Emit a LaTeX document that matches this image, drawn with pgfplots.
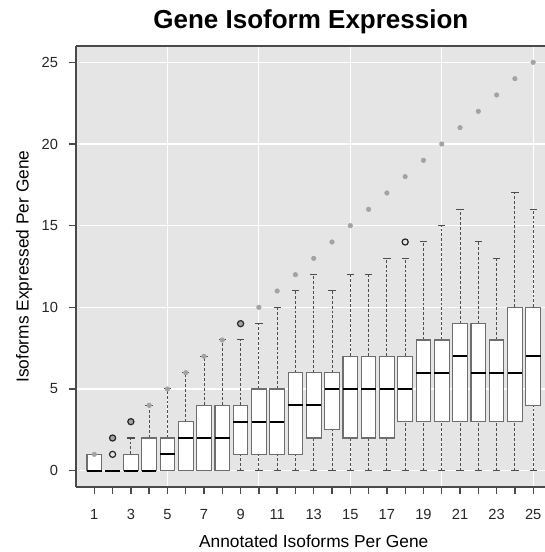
\documentclass[border=0pt]{standalone}
\usepackage{pgfplots}
\pgfplotsset{compat=1.18}
\usepgfplotslibrary{statistics}
\usepackage{fontspec}
\setmainfont{Liberation Sans}
\definecolor{bggray}{HTML}{E5E5E5}
\definecolor{dotgray}{HTML}{A3A3A3}
\definecolor{framegray}{HTML}{4A4A4A}
\definecolor{boxgray}{HTML}{6E6E6E}
\definecolor{whgray}{HTML}{4D4D4D}
\tikzset{
  whiskline/.style={draw=whgray, line width=0.75pt, dash pattern=on 2.2pt off 1.5pt},
  capline/.style={draw=whgray, line width=0.75pt, solid},
}
\pgfplotsset{
  boxplot/draw/lower whisker/.code={%
    \draw[whiskline] (boxplot cs:\pgfplotsboxplotvalue{lower whisker},0) -- (boxplot cs:\pgfplotsboxplotvalue{lower quartile},0);
    \draw[capline] (boxplot whisker cs:\pgfplotsboxplotvalue{lower whisker},0) -- (boxplot whisker cs:\pgfplotsboxplotvalue{lower whisker},1);
  },
  boxplot/draw/upper whisker/.code={%
    \draw[whiskline] (boxplot cs:\pgfplotsboxplotvalue{upper quartile},0) -- (boxplot cs:\pgfplotsboxplotvalue{upper whisker},0);
    \draw[capline] (boxplot whisker cs:\pgfplotsboxplotvalue{upper whisker},0) -- (boxplot whisker cs:\pgfplotsboxplotvalue{upper whisker},1);
  },
}
\newcommand{\bx}[6]{\addplot[draw=whgray, boxplot prepared={draw position=#1, lower whisker=#2, lower quartile=#3, median=#4, upper quartile=#5, upper whisker=#6}] coordinates {};}
\begin{document}
\begin{tikzpicture}
\begin{axis}[
  scale only axis,
  width=356.6pt, height=330.75pt,
  xmin=0, xmax=26, ymin=-1, ymax=26,
  clip=false,
  axis background/.style={fill=bggray},
  axis x line*=bottom, axis y line*=left,
  axis line style={draw=framegray, line width=1pt, -},
  tick align=outside,
  major tick length=5.5pt,
  minor tick length=0pt,
  ytick style={draw=framegray, line width=1pt},
  xtick style={draw=none},
  xtick={1,...,25},
  xticklabels={1,,3,,5,,7,,9,,11,,13,,15,,17,,19,,21,,23,,25},
  minor xtick={5,10,15,20,25},
  xminorgrids=true,
  ytick={0,5,...,25},
  ymajorgrids=true,
  major grid style={draw=white, line width=0.9pt},
  minor grid style={draw=white, line width=0.9pt},
  x tick label style={font=\fontsize{11}{13}\selectfont, text=black!85, yshift=-7.5pt},
  y tick label style={font=\fontsize{11}{13}\selectfont, text=black!85, xshift=-4.5pt},
  /pgf/number format/assume math mode=true,
  every axis title shift=0pt,
  title={Gene Isoform Expression},
  title style={font=\fontsize{19.5}{23}\selectfont\bfseries, at={(axis description cs:0.494,1)}, anchor=base, yshift=12.75pt},
  xlabel={Annotated Isoforms Per Gene},
  xlabel style={font=\fontsize{13}{15}\selectfont, at={(axis description cs:0.5,0)}, anchor=base, yshift=-45pt},
  ylabel={Isoforms Expressed Per Gene},
  ylabel style={font=\fontsize{13}{15}\selectfont, at={(axis description cs:-0.0998,0.5)}, anchor=base, rotate=0},
  boxplot/draw direction=y,
  boxplot/box extend=0.8,
  boxplot/whisker extend=0.4,
  boxplot/every box/.style={draw=boxgray, fill=white, line width=0.8pt, solid},
  boxplot/every whisker/.style={draw=whgray, line width=0.75pt},
  boxplot/every median/.style={draw=black, line width=1.7pt, solid},
]
\bx{1}{0}{0}{0}{1}{1}
\bx{2}{0}{0}{0}{0}{0}
\bx{3}{0}{0}{0}{1}{2}
\bx{4}{0}{0}{0}{2}{4}
\bx{5}{0}{0}{1}{2}{5}
\bx{6}{0}{0}{2}{3}{6}
\bx{7}{0}{0}{2}{4}{7}
\bx{8}{0}{0}{2}{4}{8}
\bx{9}{0}{1}{3}{4}{8}
\bx{10}{0}{1}{3}{5}{9}
\bx{11}{0}{1}{3}{5}{10}
\bx{12}{0}{1}{4}{6}{11}
\bx{13}{0}{2}{4}{6}{12}
\bx{14}{0}{2.5}{5}{6}{11}
\bx{15}{0}{2}{5}{7}{12}
\bx{16}{0}{2}{5}{7}{12}
\bx{17}{0}{2}{5}{7}{13}
\bx{18}{0}{3}{5}{7}{13}
\bx{19}{0}{3}{6}{8}{14}
\bx{20}{0}{3}{6}{8}{15}
\bx{21}{0}{3}{7}{9}{16}
\bx{22}{0}{3}{6}{9}{14}
\bx{23}{0}{3}{6}{8}{13}
\bx{24}{0}{3}{6}{10}{17}
\bx{25}{0}{4}{7}{10}{16}
\addplot[only marks, mark=*, mark size=1.7pt, draw=dotgray, fill=dotgray] coordinates {
(1,1) (2,2) (3,3) (4,4) (5,5) (6,6) (7,7) (8,8) (9,9) (10,10) (11,11) (12,12) (13,13)
(14,14) (15,15) (16,16) (17,17) (18,18) (19,19) (20,20) (21,21) (22,22) (23,23) (24,24) (25,25)};
\addplot[only marks, mark=o, mark size=2.3pt, draw=black!85, line width=0.9pt] coordinates {
(2,1) (2,2) (3,3) (9,9) (18,14)};
\pgfplotsinvokeforeach{1,...,25}{
  \draw[framegray, line width=1pt] (axis cs:#1,-1) -- ++(0pt,-5.5pt);
}
\draw[framegray, line width=1pt] (rel axis cs:0,1) -- (rel axis cs:1,1);
\end{axis}
\pgfresetboundingbox
\path[use as bounding box] (-57pt,-48.75pt) rectangle (351pt,365.25pt);
\end{tikzpicture}
\end{document}
